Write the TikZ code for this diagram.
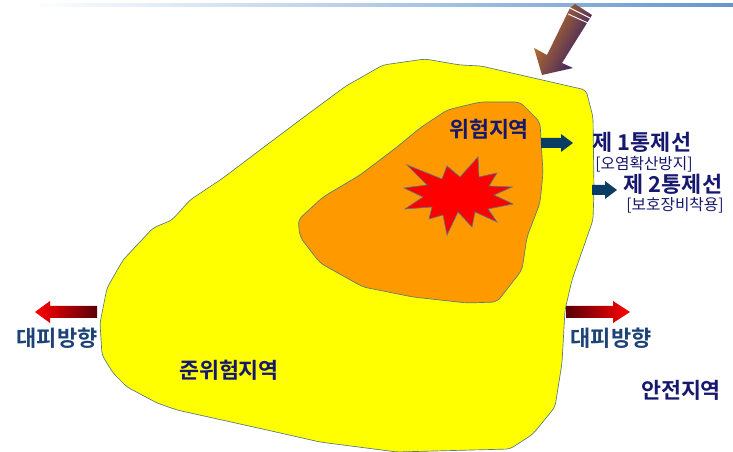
\documentclass[tikz,border=0pt]{standalone}
\usepackage{fontspec}
\setmainfont{Noto Sans CJK KR}[BoldFont={* Bold}]
\definecolor{navytext}{RGB}{22,24,110}
\definecolor{bluetext}{RGB}{28,66,120}
\definecolor{zonegray}{RGB}{90,120,130}
\definecolor{shaftblue}{RGB}{10,60,100}
\definecolor{zoneyellow}{RGB}{255,255,0}
\definecolor{zoneorange}{RGB}{255,153,0}
\definecolor{zonered}{RGB}{255,0,0}
\definecolor{rulestart}{RGB}{255,255,255}
\definecolor{ruleend}{RGB}{100,150,205}
\definecolor{shaftbrown}{RGB}{205,125,30}
\definecolor{shaftmid}{RGB}{170,100,50}
\definecolor{shaftdark}{RGB}{40,20,110}
\definecolor{rundark}{RGB}{90,0,10}
\tikzset{
  zone/.style={draw=zonegray, line width=0.5pt},
  widelabel/.style={font=\bfseries\fontsize{16.3}{17}\selectfont, text=navytext, inner sep=0pt},
  linelabel/.style={font=\bfseries\fontsize{16.4}{17}\selectfont, text=navytext, inner sep=0pt},
  sublabel/.style={font=\fontsize{11.8}{12}\selectfont, text=navytext, inner sep=0pt},
  runlabel/.style={font=\bfseries\fontsize{16.5}{17}\selectfont, text=bluetext, inner sep=0pt},
}
\begin{document}
\begin{tikzpicture}[x=0.75pt,y=-0.75pt]
\useasboundingbox (0,0) rectangle (733,452);

% top rule
\shade[left color=rulestart, right color=ruleend] (30,4) rectangle (733,7);

% yellow zone
\draw[zone, fill=zoneyellow, rounded corners=3pt] (586,90) -- (593,117) -- (594,190) -- (593,220)
  -- (572,280) -- (565,310) -- (562,363) -- (555,407) -- (533,434) -- (510,449)
  -- (397,452) -- (320,442) -- (267,430) -- (177,410) -- (157,403) -- (127,387) -- (113,373)
  -- (102,355) -- (100,323) -- (107,288) -- (123,260) -- (153,228) -- (172,220)
  -- (190,200) -- (223,178) -- (260,150) -- (300,120) -- (327,100) -- (346,86) -- (383,65) -- (425,59)
  -- (460,65) -- (481,66) -- cycle;

% orange zone
\draw[zone, fill=zoneorange, rounded corners=4pt] (520,102) -- (540,122) -- (543,173) -- (540,203)
  -- (527,237) -- (522,270) -- (497,302) -- (467,303) -- (413,297) -- (363,287) -- (320,263)
  -- (300,237) -- (298,220) -- (323,197) -- (360,175) -- (397,147) -- (420,128) -- (447,110)
  -- (480,102) -- cycle;

% explosion
\draw[zone, fill=zonered] (407,165) -- (442,179) -- (447,166) -- (460,177) -- (478,157) -- (479,177)
  -- (497,173) -- (489,186) -- (512,187) -- (494,195) -- (513,204) -- (488,209) -- (497,222)
  -- (475,212) -- (472,227) -- (458,212) -- (447,235) -- (443,215) -- (429,219) -- (432,207)
  -- (405,209) -- (423,197) -- (404,188) -- (427,185) -- cycle;

% incoming arrow
\shade[left color=shaftbrown, middle color=shaftmid, right color=shaftdark, shading angle=61]
  (542,75) -- (534,48) -- (547,55) -- (570,8) -- (575,4) -- (592,15) -- (562,63) -- (573,68) -- cycle;
\draw[white, line width=0.7pt] (570,8) -- (590,18);
\draw[white, line width=0.7pt] (568,14) -- (588,23);

% control line arrows
\fill[shaftblue] (541,138) -- (561,138) -- (561,134) -- (573,143) -- (561,152) -- (561,148) -- (541,148) -- cycle;
\fill[shaftblue] (592,185) -- (605,185) -- (605,181) -- (617,190) -- (605,199) -- (605,195) -- (592,195) -- cycle;

% evacuation arrows
\shade[left color=zonered, right color=rundark]
  (35,312) -- (50,301) -- (50,306) -- (97,306) -- (97,318) -- (50,318) -- (50,323) -- cycle;
\shade[left color=rundark, right color=zonered]
  (630,312) -- (613,301) -- (613,306) -- (566,306) -- (566,318) -- (613,318) -- (613,323) -- cycle;

% labels
\node[widelabel] (danger) at (489,129) {위험지역};
\node[widelabel] (semi) at (229,370) {준위험지역};
\node[widelabel] (safe) at (681,390) {안전지역};
\node[linelabel] (line1) at (642,142) {제 1통제선};
\node[sublabel] (sub1) at (644,164) {[오염확산방지]};
\node[linelabel] (line2) at (673,184) {제 2통제선};
\node[sublabel] (sub2) at (675,205) {[보호장비착용]};
\node[runlabel] (runl) at (57,338) {대피방향};
\node[runlabel] (runr) at (611,338) {대피방향};

\end{tikzpicture}
\end{document}
